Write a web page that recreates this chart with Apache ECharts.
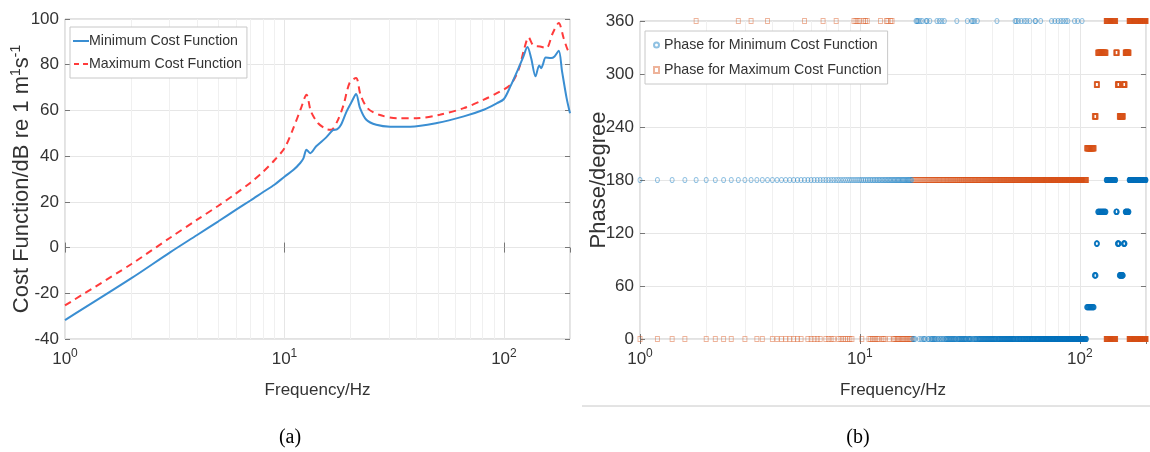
<!DOCTYPE html>
<html><head><meta charset="utf-8">
<script src="https://cdn.jsdelivr.net/npm/echarts@6/dist/echarts.min.js"></script>
<style>html,body{margin:0;padding:0;background:#fff}#c{width:1150px;height:452px}</style>
</head><body><div id="c"></div>
<script>
// ---------- Panel (a): cost functions ----------
const minFreq = [1,2,3,4,5,6,7,8,9,10,11,11.8,12.2,12.6,13.1,13.95,15.5,16.6,17.4,18.1,19.2,20.3,21.2,22.1,23.6,26.2,30.3,37.4,49.5,65.6,80.9,93,100,107,116.6,122,128,133,139.3,144.8,148,150.7,155,164,170,177.7,184,193,200];
const minCost = [-31.7,-13.5,-2.2,5.5,11.5,16.5,20.6,24.3,27.5,31,34,37,39,42.8,41.3,44.3,48.2,51.3,51.8,53.7,59.6,64,67.2,61,55.9,53.7,52.9,52.9,54.5,57.4,60.3,63.2,65,70.5,78.5,83,87.7,82.9,74.9,79.7,78.5,80.3,83.2,82.9,83.6,86.1,77.1,65.4,58.8];
const maxFreq = [1,2,3,4,5,6,7,8,9,10,10.9,11.9,12.6,13.2,14.2,15.5,16.3,17.4,18.6,19.8,21.2,22.2,23.9,27,32.6,40,51,65.6,81,96,107,116.6,124,129.5,136,146,156,167,177.7,187,195,200];
const maxCost = [-25.3,-7.3,4.2,12.2,18.3,23.6,28.4,33.2,38.2,43.5,51.5,61,66.9,59.6,54.5,51.8,51.5,55.2,62.5,72,74.2,66.9,61,58.1,56.6,56.6,58.1,61,64.7,68.3,71.2,77.8,87.3,92,88.5,88,87.3,93.9,98.2,91.7,86.6,85.1];
const costTicks = [-40,-20,0,20,40,60,80,100];
const minorFreqs = [2,3,4,5,6,7,8,9,20,30,40,50,60,70,80,90];

// ---------- Panel (b): phases (sampled every 0.2 Hz) ----------
const sampleStep = 0.2;
// [start Hz, end Hz, phase deg]
const minPhaseSegments = [
  [1,17.2,180],[17.4,107.2,0],[107.4,116.2,36],[116.4,118.6,72],[118.8,120.4,108],
  [120.6,131.6,144],[131.8,145.6,180],[145.8,148.0,144],[148.2,151.0,108],
  [151.2,157.6,72],[157.8,160.6,108],[160.8,167.4,144],[167.6,200,180]
];
// samples of the 0-degree run that are drawn at 360 instead
const minPhaseAt360 = [18.0,18.2,18.4,18.8,19.2,20.0,20.2,20.8,22.4,23.0,23.6,24.2,27.6,30.8,32.2,32.6,33.2,34.2,42.0,50.8,51.4,52.6,54.2,56.0,57.4,59.2,62.6,63.0,66.4,74.4,77.0,79.6,82.0,84.0,86.4,88.2,94.6,97.8,102.4];
const maxPhaseSegments = [
  [1,17.2,0],[17.4,107.2,180],[107.4,116.2,216],[116.4,118.6,252],[118.8,120.4,288],
  [120.6,131.6,324],[131.8,145.6,360],[131.8,145.6,0],[145.8,148.0,324],[148.2,151.0,288],
  [151.2,157.6,252],[157.8,160.6,288],[160.8,167.4,324],[167.6,200,360],[167.6,200,0]
];
const maxPhaseAt360 = [1.8,2.8,3.2,3.8,5.6,6.8,7.8,9.4,9.6,9.8,10.0,10.4,10.6,10.8,12.4,13.2,13.4,13.8,14.0];
const phaseTicks = [0,60,120,180,240,300,360];

function expand(segs, at360) {
  const out = [];
  const wrap = new Set(at360.map(v => Math.round(v / sampleStep)));
  segs.forEach(([a, b, p]) => {
    for (let k = Math.round(a / sampleStep); k <= Math.round(b / sampleStep); k++) {
      const f = +(k * sampleStep).toFixed(1);
      out.push([f, (p === 0 && wrap.has(k)) ? 360 : p]);
    }
  });
  return out;
}
const minPhase = expand(minPhaseSegments, minPhaseAt360);
const maxPhase = expand(maxPhaseSegments, maxPhaseAt360);

const FONT = "'Liberation Sans',Arial,sans-serif";
const TXT = '#333';
const supRich = {
  b: {fontSize: 17, fontFamily: FONT, color: TXT},
  s: {fontSize: 12, fontFamily: FONT, color: TXT, padding: [0, 0, 10, 0]}
};
const logLabel = v => '{b|10}{s|' + Math.round(Math.log10(v)) + '}';

function xMain(grid) {
  return {
    type: 'log', logBase: 10, min: 1, max: 200, gridIndex: grid, position: 'bottom',
    axisLine: {show: false},
    axisTick: {inside: true, length: 5, lineStyle: {color: '#777'}},
    axisLabel: {formatter: logLabel, rich: supRich, margin: 9, showMaxLabel: false},
    splitLine: {show: true, lineStyle: {color: '#e6e6e6'}},
    name: 'Frequency/Hz', nameLocation: 'middle', nameGap: 43,
    nameTextStyle: {fontSize: 17, fontFamily: FONT, color: TXT}
  };
}
function xMirror(grid) {
  return {
    type: 'log', logBase: 10, min: 1, max: 200, gridIndex: grid, position: 'top',
    axisLine: {show: false}, axisLabel: {show: false}, splitLine: {show: false},
    axisTick: {inside: true, length: 5, lineStyle: {color: '#777'}}
  };
}
function yMirror(grid, min, max, interval) {
  return {
    type: 'value', min, max, interval, gridIndex: grid, position: 'right',
    axisLine: {show: false}, axisLabel: {show: false}, splitLine: {show: false},
    axisTick: {inside: true, length: 5, lineStyle: {color: '#777'}}
  };
}
function minorGrid(xi, yi) {
  return {type: 'line', xAxisIndex: xi, yAxisIndex: yi, data: [], z: 1, silent: true,
    markLine: {silent: true, symbol: 'none', label: {show: false}, animation: false, z: 1,
      lineStyle: {color: '#f0f0f0', type: 'solid', width: 1},
      data: minorFreqs.map(v => ({xAxis: v}))}};
}

const chart = echarts.init(document.getElementById('c'));
chart.setOption({
  animation: false,
  backgroundColor: '#fff',
  grid: [
    {left: 65, top: 19, width: 505, height: 320, show: true, borderColor: '#c4c4c4', borderWidth: 1, backgroundColor: 'transparent'},
    {left: 640, top: 21, width: 506, height: 318, show: true, borderColor: '#c4c4c4', borderWidth: 1, backgroundColor: 'transparent'}
  ],
  xAxis: [xMain(0), xMirror(0), xMain(1), xMirror(1)],
  yAxis: [
    {type: 'value', gridIndex: 0, min: costTicks[0], max: costTicks[costTicks.length - 1], interval: 20,
     axisLine: {show: false},
     axisTick: {inside: true, length: 5, lineStyle: {color: '#777'}},
     axisLabel: {fontSize: 17, fontFamily: FONT, color: TXT, margin: 6},
     splitLine: {lineStyle: {color: '#e6e6e6'}},
     name: 'Cost Function/dB re 1 m{s|1}s{s|-1}', nameLocation: 'middle', nameGap: 30, nameMoveOverlap: false,
     nameTextStyle: {fontSize: 22, fontFamily: FONT, color: TXT,
       rich: {s: {fontSize: 14, fontFamily: FONT, color: TXT, padding: [0, 0, 12, 0]}}}},
    yMirror(0, -40, 100, 20),
    {type: 'value', gridIndex: 1, min: phaseTicks[0], max: phaseTicks[phaseTicks.length - 1], interval: 60,
     axisLine: {show: false},
     axisTick: {inside: true, length: 5, lineStyle: {color: '#777'}},
     axisLabel: {fontSize: 17, fontFamily: FONT, color: TXT, margin: 6},
     splitLine: {lineStyle: {color: '#e6e6e6'}},
     name: 'Phase/degree', nameLocation: 'middle', nameGap: 30, nameMoveOverlap: false,
     nameTextStyle: {fontSize: 22, fontFamily: FONT, color: TXT}},
    yMirror(1, 0, 360, 60)
  ],
  legend: [
    {data: [
       {name: 'Minimum Cost Function', icon: 'path://M0,0h16v2h-16z'},
       {name: 'Maximum Cost Function', icon: 'path://M0,0h5v2h-5zM9,0h5v2h-5z'}],
     orient: 'vertical', left: 70, top: 27,
     backgroundColor: '#fff', borderColor: '#c8c8c8', borderWidth: 1, padding: [5, 5, 5, 3], itemGap: 5,
     itemWidth: 16, itemHeight: 2, textStyle: {fontSize: 14.2, lineHeight: 18, fontFamily: FONT, color: TXT, padding: [0,0,0,-5]}},
    {data: ['Phase for Minimum Cost Function', 'Phase for Maximum Cost Function'], orient: 'vertical', left: 645, top: 31,
     backgroundColor: '#fff', borderColor: '#c8c8c8', borderWidth: 1, padding: [5, 6, 5, 8], itemGap: 7,
     itemWidth: 5, itemHeight: 6, textStyle: {fontSize: 14.2, lineHeight: 18, fontFamily: FONT, color: TXT}}
  ],
  series: [
    minorGrid(0, 0),
    minorGrid(2, 2),
    {name: 'Minimum Cost Function', type: 'line', xAxisIndex: 0, yAxisIndex: 0,
     data: minFreq.map((f, i) => [f, minCost[i]]), showSymbol: false, symbol: 'none', smooth: 0.3,
     lineStyle: {color: '#3a8ed2', width: 2}, itemStyle: {color: '#3a8ed2'}, z: 3},
    {name: 'Maximum Cost Function', type: 'line', xAxisIndex: 0, yAxisIndex: 0,
     data: maxFreq.map((f, i) => [f, maxCost[i]]), showSymbol: false, symbol: 'none', smooth: 0.3,
     lineStyle: {color: '#ff3b3b', width: 2, type: [7, 5]}, itemStyle: {color: '#ff3b3b'}, z: 2},
    {name: 'Phase for Minimum Cost Function', type: 'scatter', xAxisIndex: 2, yAxisIndex: 2,
     data: minPhase, symbol: 'circle', symbolSize: [4, 5], large: false, progressive: 0,
     itemStyle: {color: 'rgba(255,255,255,0)', borderColor: 'rgba(0,114,189,0.55)', borderWidth: 1}, z: 3},
    {name: 'Phase for Maximum Cost Function', type: 'scatter', xAxisIndex: 2, yAxisIndex: 2,
     data: maxPhase, symbol: 'rect', symbolSize: [4, 5], large: false, progressive: 0,
     itemStyle: {color: 'rgba(255,255,255,0)', borderColor: 'rgba(217,83,25,0.55)', borderWidth: 1}, z: 2}
  ],
  graphic: [
    {type: 'line', shape: {x1: 582, y1: 406, x2: 1150, y2: 406}, style: {stroke: '#c8c8c8', lineWidth: 1}},
    {type: 'text', x: 290, y: 438, style: {text: '(a)', font: "20px 'Liberation Serif', serif", fill: '#000', textAlign: 'center', textVerticalAlign: 'middle'}},
    {type: 'text', x: 858, y: 438, style: {text: '(b)', font: "20px 'Liberation Serif', serif", fill: '#000', textAlign: 'center', textVerticalAlign: 'middle'}}
  ]
});
</script></body></html>
